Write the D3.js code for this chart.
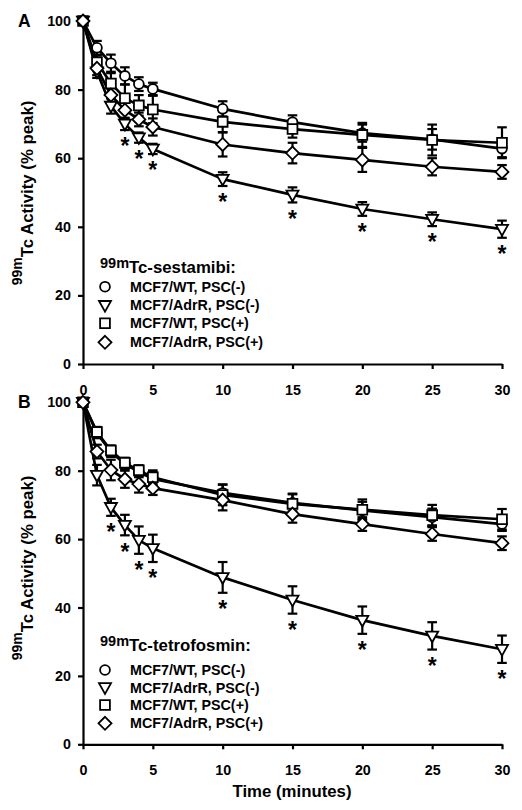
<!DOCTYPE html>
<html><head><meta charset="utf-8">
<script src="https://cdn.jsdelivr.net/npm/d3@7"></script>
<style>
body{margin:0;background:#fff;}
svg{display:block;font-family:"Liberation Sans",Arial,sans-serif;font-weight:bold;}
</style></head>
<body>
<svg id="chart" width="522" height="810"></svg>
<script>
const times = [0,1,2,3,4,5,10,15,20,25,30];
const xTicks = [0,5,10,15,20,25,30];
const yTicks = [0,20,40,60,80,100];
const seriesNames = ["MCF7/WT, PSC(-)","MCF7/AdrR, PSC(-)","MCF7/WT, PSC(+)","MCF7/AdrR, PSC(+)"];
const seriesShapes = ["circle","triangle","square","diamond"];

// Panel A: 99mTc-sestamibi
const sestaWTneg   = [100,92.2,87.7,84.0,81.6,80.2,74.4,70.5,67.3,65.5,62.8];
const sestaAdrNeg  = [100,85.2,75.2,70.0,66.0,62.7,53.9,49.3,45.2,42.2,39.3];
const sestaWTpos   = [100,88.0,81.8,77.5,75.4,74.2,70.6,68.5,66.8,65.3,64.5];
const sestaAdrPos  = [100,86.2,78.4,74.0,71.3,69.1,64.0,61.5,59.5,57.5,56.0];
const sestaErrWTneg  = [0,2.0,2.5,2.5,2.0,1.8,2.2,2.0,2.5,3.0,2.5];
const sestaErrAdrNeg = [0,1.8,2.2,1.8,1.5,1.5,2.0,2.2,2.0,2.0,2.5];
const sestaErrWTpos  = [0,2.0,3.0,4.0,3.0,4.0,3.0,2.5,3.5,4.5,4.5];
const sestaErrAdrPos = [0,2.0,2.0,2.5,2.0,2.5,3.5,3.0,3.5,2.5,2.0];
const sestaSig = [3,4,5,6,7,8,9,10];

// Panel B: 99mTc-tetrofosmin
const tetroWTneg   = [100,91.0,85.5,82.0,79.6,77.6,73.5,70.6,68.4,66.4,64.4];
const tetroAdrNeg  = [100,78.7,69.3,64.1,59.7,57.3,48.8,42.2,36.3,31.7,27.8];
const tetroWTpos   = [100,91.3,85.9,82.3,80.1,78.1,72.9,70.3,68.6,67.0,65.8];
const tetroAdrPos  = [100,85.6,80.2,77.5,76.1,74.9,71.4,67.3,64.4,61.5,58.8];
const tetroErrWTneg  = [0,1.5,1.5,1.5,1.5,2.0,2.5,2.5,2.5,2.5,2.0];
const tetroErrAdrNeg = [0,3.0,2.5,3.0,4.0,4.0,4.5,4.0,4.0,4.0,4.0];
const tetroErrWTpos  = [0,1.5,1.5,1.5,1.5,2.0,3.0,3.0,3.0,3.0,3.0];
const tetroErrAdrPos = [0,2.0,3.0,2.5,2.5,2.0,3.0,2.5,2.0,2.0,2.0];
const tetroSig = [2,3,4,5,6,7,8,9,10];

const panels = [
  {label:"A", tracer:"Tc-sestamibi:", top:21, bottom:364,
   vals:[sestaWTneg,sestaAdrNeg,sestaWTpos,sestaAdrPos],
   errs:[sestaErrWTneg,sestaErrAdrNeg,sestaErrWTpos,sestaErrAdrPos],
   sig:sestaSig, legTitleY:273.3, legY:[291.7,310.3,328.3,347.3], titleC:193},
  {label:"B", tracer:"Tc-tetrofosmin:", top:402.3, bottom:744.3,
   vals:[tetroWTneg,tetroAdrNeg,tetroWTpos,tetroAdrPos],
   errs:[tetroErrWTneg,tetroErrAdrNeg,tetroErrWTpos,tetroErrAdrPos],
   sig:tetroSig, legTitleY:651.3, legY:[675,692.5,710,728.3], titleC:568}
];

const svg = d3.select("#chart");
svg.append("rect").attr("width",522).attr("height",810).attr("fill","#fff");
const x = d3.scaleLinear().domain([0,30]).range([83,502]);

function shapePath(type){
  if(type==="circle") return d3.symbol(d3.symbolCircle, Math.PI*4.9*4.9)();
  if(type==="square") return "M-4.9,-4.9H4.9V4.9H-4.9Z";
  if(type==="diamond") return "M0,-6.5L6.5,0L0,6.5L-6.5,0Z";
  if(type==="triangle") return "M-6,-4.3L6,-4.3L0,6.4Z";
}

panels.forEach(p=>{
  const y = d3.scaleLinear().domain([0,100]).range([p.bottom,p.top]);
  const g = svg.append("g");

  // axes
  const xa = g.append("g").attr("transform",`translate(0,${p.bottom})`)
    .call(d3.axisBottom(x).tickValues(xTicks).tickSize(5).tickSizeOuter(0).tickPadding(7));
  const ya = g.append("g").attr("transform",`translate(${x(0)},0)`)
    .call(d3.axisLeft(y).tickValues(yTicks).tickSize(5).tickSizeOuter(0).tickPadding(7));
  [xa,ya].forEach(a=>{
    a.select(".domain").attr("stroke","#000").attr("stroke-width",2.2);
    a.selectAll(".tick line").attr("stroke","#000").attr("stroke-width",2.2);
    a.selectAll(".tick text").attr("fill","#000").attr("font-size",14.3)
      .attr("font-family","'Liberation Sans',Arial,sans-serif").attr("font-weight","bold");
  });
  xa.selectAll(".tick text").attr("dy","1.3em");

  // lines
  const line = d3.line().x((d,i)=>x(times[i])).y(d=>y(d));
  p.vals.forEach(v=>{
    g.append("path").datum(v).attr("d",line).attr("fill","none")
      .attr("stroke","#000").attr("stroke-width",2.7).attr("stroke-linejoin","round");
  });

  // error bars
  p.vals.forEach((v,si)=>{
    const e = p.errs[si];
    v.forEach((val,i)=>{
      if(!e[i]) return;
      const cx = x(times[i]), y1 = y(val+e[i]), y2 = y(val-e[i]);
      g.append("line").attr("x1",cx).attr("x2",cx).attr("y1",y1).attr("y2",y2)
        .attr("stroke","#000").attr("stroke-width",2.2);
      [y1,y2].forEach(yy=>g.append("line").attr("x1",cx-4.8).attr("x2",cx+4.8)
        .attr("y1",yy).attr("y2",yy).attr("stroke","#000").attr("stroke-width",2.2));
    });
  });

  // markers
  p.vals.forEach((v,si)=>{
    g.selectAll(null).data(v).enter().append("path")
      .attr("d",shapePath(seriesShapes[si]))
      .attr("transform",(d,i)=>`translate(${x(times[i])},${y(d)})`)
      .attr("fill","#fff").attr("stroke","#000").attr("stroke-width",1.8);
  });

  // asterisks
  const adr = p.vals[1], adrE = p.errs[1];
  p.sig.forEach(i=>{
    g.append("text").attr("x",x(times[i])).attr("y",y(adr[i]-adrE[i])+11+0.58*23)
      .attr("text-anchor","middle").attr("font-size",23).text("*");
  });

  // panel label
  g.append("text").attr("x",18).attr("y",p.top+6).attr("font-size",17.5).text(p.label);

  // y title
  const yt = g.append("text").attr("transform",`translate(33,${p.titleC}) rotate(-90)`)
    .attr("text-anchor","middle");
  yt.append("tspan").attr("font-size",14).attr("dy",-11.5).text("99m");
  yt.append("tspan").attr("font-size",16.8).attr("dy",11.5).text("Tc Activity (% peak)");

  // legend
  const lt = g.append("text").attr("x",100).attr("y",p.legTitleY);
  lt.append("tspan").attr("font-size",14.5).attr("dy",-5).text("99m");
  lt.append("tspan").attr("font-size",16.8).attr("dy",5).text(p.tracer);
  seriesNames.forEach((n,si)=>{
    g.append("path").attr("d",shapePath(seriesShapes[si]))
      .attr("transform",`translate(105,${p.legY[si]-5})`)
      .attr("fill","#fff").attr("stroke","#000").attr("stroke-width",1.8);
    g.append("text").attr("x",130).attr("y",p.legY[si]).attr("font-size",14.3).text(n);
  });
});

svg.append("text").attr("x",292).attr("y",797).attr("text-anchor","middle")
  .attr("font-size",16.8).text("Time (minutes)");
</script>
</body></html>
